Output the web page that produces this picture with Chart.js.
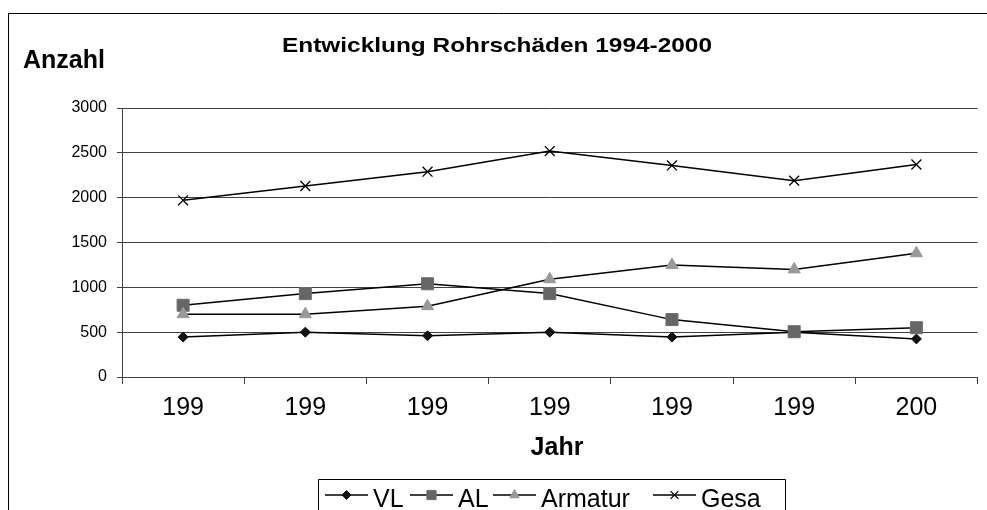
<!DOCTYPE html>
<html>
<head>
<meta charset="utf-8">
<script src="https://cdn.jsdelivr.net/npm/chart.js@4.4.1/dist/chart.umd.min.js"></script>
<style>
html,body{margin:0;padding:0;background:#fff;}
#wrap{width:987px;height:510px;position:relative;}
</style>
</head>
<body>
<div id="wrap"><canvas id="c"></canvas></div>
<script>
// ---- data ----
const categories = ['199', '199', '199', '199', '199', '199', '200'];
const seriesNames = ['VL', 'AL', 'Armatur', 'Gesa'];
const vlValues = [445, 500, 460, 500, 445, 500, 425];
const alValues = [800, 930, 1040, 930, 640, 505, 550];
const armaturValues = [700, 700, 790, 1090, 1250, 1200, 1380];
const gesaValues = [1970, 2130, 2290, 2520, 2360, 2190, 2370];
const yTicks = [0, 500, 1000, 1500, 2000, 2500, 3000];
const titleText = 'Entwicklung Rohrschäden 1994-2000';
const yAxisTitle = 'Anzahl';
const xAxisTitle = 'Jahr';

// ---- styles ----
const FONT = "'Liberation Sans', Arial, Helvetica, sans-serif";
const styles = [
  { pointStyle: 'rectRot', radius: 5, legendRadius: 4.5, fill: '#111111', stroke: '#111111', bw: 1 },
  { pointStyle: 'rect', radius: 8.5, legendRadius: 6.5, fill: '#666666', stroke: '#6e6e6e', bw: 1 },
  { pointStyle: 'triangle', radius: 7, legendRadius: 5.5, fill: '#999999', stroke: '#9a9a9a', bw: 1 },
  { pointStyle: 'crossRot', radius: 7, legendRadius: 5.5, fill: '#000000', stroke: '#000000', bw: 1.3 }
];
const seriesValues = [vlValues, alValues, armaturValues, gesaValues];

const datasets = seriesNames.map((name, i) => ({
  label: name,
  data: seriesValues[i],
  borderColor: '#000000',
  borderWidth: 1.5,
  fill: false,
  tension: 0,
  pointStyle: styles[i].pointStyle,
  pointRadius: styles[i].radius,
  pointHoverRadius: styles[i].radius,
  pointBackgroundColor: styles[i].fill,
  pointBorderColor: styles[i].stroke,
  pointBorderWidth: styles[i].bw,
  order: seriesNames.length - i
}));

function fitText(ctx, text, x0, x1, baseline, font) {
  ctx.font = font;
  const w = ctx.measureText(text).width;
  const sx = (x1 - x0) / w;
  ctx.save();
  ctx.translate(x0, baseline);
  ctx.scale(sx, 1);
  ctx.textAlign = 'left';
  ctx.textBaseline = 'alphabetic';
  ctx.fillStyle = '#000';
  ctx.fillText(text, 0, 0);
  ctx.restore();
}

const decor = {
  id: 'decor',
  afterDraw(chart) {
    const ctx = chart.ctx;
    ctx.save();
    // outer frame (extends beyond the picture on right and bottom)
    ctx.strokeStyle = '#000';
    ctx.lineWidth = 1;
    ctx.beginPath();
    ctx.moveTo(8.5, 520);
    ctx.lineTo(8.5, 13.5);
    ctx.lineTo(1000, 13.5);
    ctx.stroke();

    // title
    fitText(ctx, titleText, 282, 712, 52, 'bold 21px ' + FONT);

    // axis titles
    ctx.fillStyle = '#000';
    ctx.textBaseline = 'alphabetic';
    ctx.font = 'bold 25px ' + FONT;
    ctx.textAlign = 'left';
    ctx.fillText(yAxisTitle, 23, 68);
    ctx.textAlign = 'center';
    ctx.fillText(xAxisTitle, 557, 455);

    // legend box
    ctx.strokeStyle = '#000';
    ctx.lineWidth = 1;
    ctx.beginPath();
    ctx.moveTo(318.5, 520);
    ctx.lineTo(318.5, 479.5);
    ctx.lineTo(785.5, 479.5);
    ctx.lineTo(785.5, 520);
    ctx.stroke();

    const itemX = [325, 410, 493, 653];
    const symW = 43;
    const ly = 495;
    ctx.font = '25px ' + FONT;
    ctx.textAlign = 'left';
    seriesNames.forEach((name, i) => {
      const x = itemX[i];
      ctx.strokeStyle = '#000';
      ctx.lineWidth = 1.5;
      ctx.beginPath();
      ctx.moveTo(x, ly);
      ctx.lineTo(x + symW, ly);
      ctx.stroke();
      ctx.fillStyle = styles[i].fill;
      ctx.strokeStyle = styles[i].stroke;
      ctx.lineWidth = styles[i].bw;
      Chart.helpers.drawPoint(ctx, {
        pointStyle: styles[i].pointStyle,
        radius: styles[i].legendRadius,
        rotation: 0,
        borderWidth: styles[i].bw
      }, x + symW / 2, ly);
      ctx.fillStyle = '#000';
      ctx.fillText(name, x + symW + 5, 507);
    });
    ctx.restore();
  }
};

new Chart(document.getElementById('c'), {
  type: 'line',
  data: { labels: categories, datasets },
  options: {
    responsive: true,
    maintainAspectRatio: false,
    devicePixelRatio: 1,
    animation: false,
    layout: { padding: { top: 108, right: 5, left: 0, bottom: 0 } },
    plugins: { legend: { display: false }, tooltip: { enabled: false }, title: { display: false } },
    scales: {
      x: {
        type: 'category',
        offset: true,
        grid: { display: true, drawOnChartArea: false, drawTicks: true, tickLength: 7, color: '#404040', offset: true },
        border: { display: true, color: '#404040', width: 1 },
        ticks: { font: { family: FONT, size: 25 }, color: '#000', padding: 9, maxRotation: 0, autoSkip: false },
        afterFit(s) { s.height = 133; }
      },
      y: {
        min: 0,
        max: 3000,
        afterBuildTicks(s) { s.ticks = yTicks.map(v => ({ value: v })); },
        grid: { color: '#404040', lineWidth: 1, tickLength: 5, drawTicks: true },
        border: { display: true, color: '#404040', width: 1 },
        ticks: { font: { family: FONT, size: 16 }, color: '#000', padding: 10, callback: (v) => String(v) },
        afterFit(s) { s.width = 122; }
      }
    }
  },
  plugins: [decor]
});
</script>
</body>
</html>
